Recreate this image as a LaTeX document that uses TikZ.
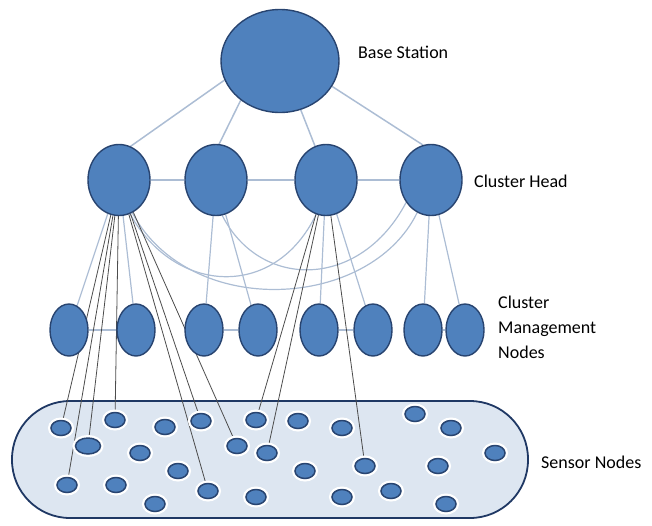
\documentclass[tikz,border=0pt]{standalone}
\usepackage{fontspec}
\setmainfont{Carlito}
\usepackage{tikz}
\usetikzlibrary{shapes.geometric,backgrounds}

\definecolor{nodeblue}{RGB}{79,129,189}
\definecolor{nodeedge}{RGB}{40,68,112}
\definecolor{linkblue}{RGB}{172,189,212}
\definecolor{zonefill}{RGB}{221,230,241}
\definecolor{zoneedge}{RGB}{31,56,100}

\begin{document}
\begin{tikzpicture}[x=1pt,y=-1pt,
  bsnode/.style={ellipse,draw=nodeedge,line width=1.4pt,fill=nodeblue,inner sep=0pt,minimum width=118pt,minimum height=103pt},
  chnode/.style={bsnode,minimum width=62pt,minimum height=71pt},
  cmnode/.style={bsnode,minimum width=38pt,minimum height=52pt},
  snode/.style={ellipse,draw=nodeedge,line width=1.5pt,fill=nodeblue,inner sep=0pt,minimum width=20pt,minimum height=15pt,preaction={draw=white,line width=6pt}},
  link/.style={draw=linkblue,line width=1.5pt},
  wire/.style={draw=black!70,line width=0.8pt},
  zone/.style={draw=zoneedge,fill=zonefill,line width=1.8pt,rounded corners=58pt},
  lbl/.style={anchor=west,align=left,inner sep=0pt,font=\fontsize{18}{25}\selectfont}]
\useasboundingbox (0,0) rectangle (652,525);

% base station and cluster heads
\node[bsnode] (bs) at (280,61) {};
\foreach \n/\x in %
{1/119,2/216,3/326,4/431} {
   \node[chnode] (ch\n) at (\x,180) {};
}
% cluster management nodes
\foreach \n/\x in %
{1/69,2/136,3/204,4/258,5/319,6/373,7/423,8/465} {
   \node[cmnode] (cm\n) at (\x,330) {};
}
% sensor field
\foreach \n/\x/\y in %
{1/61/428,2/115/420,3/165/427,4/201/421,5/256/420,6/298/421,7/342/428,%
 8/415/414,9/451/428,11/140/453,12/237/446,13/267/453,14/495/453,%
 15/178/471,16/305/471,17/365/466,18/438/466,19/67/485,20/116/485,%
 21/155/504,22/208/491,23/256/497,24/342/497,25/391/491,26/446/504} {
   \node[snode] (s\n) at (\x,\y) {};
}
\node[snode,minimum width=25pt,minimum height=16pt] (s10) at (88,446) {};

\node[lbl] (bslabel) at (358,52) {Base Station};
\node[lbl] (chlabel) at (474,181) {Cluster Head};
\node[lbl] (cmlabel) at (498,327) {Cluster\\Management\\Nodes};
\node[lbl] (snlabel) at (541,462) {Sensor Nodes};

\begin{scope}[on background layer]
\draw[zone] (12,401) rectangle (528,518);
% uplinks to the base station
\draw[link] (bs.199) -- (ch1.71);
\draw[link] (bs.225) -- (ch2.85);
\draw[link] (bs.293) -- (ch3.108);
\draw[link] (bs.334) -- (ch4.103);
\draw[link] (ch1) -- (ch2);
\draw[link] (ch2) -- (ch3);
\draw[link] (ch3) -- (ch4);
% head to head arcs
\draw[link,line width=1.2pt] (ch1.-72) .. controls (175,295) and (275,300) .. (ch3.-106);
\draw[link,line width=1.2pt] (ch1.-68) .. controls (190,320) and (370,310) .. (ch4.-113);
\draw[link,line width=1.2pt] (ch2.-80) .. controls (260,290) and (360,290) .. (ch4.-138);
% heads to management nodes
\foreach \h/\a/\b in %
{1/1/2,2/3/4,3/5/6,4/7/8} {
   \draw[link,line width=1.2pt] (ch\h) -- (cm\a);
   \draw[link,line width=1.2pt] (ch\h) -- (cm\b);
   \draw[link] (cm\a) -- (cm\b);
}
% direct wires to sensors
\foreach \s in {1,10,2,19,4,22,12} {
   \draw[wire] (ch1) -- (s\s);
}
\foreach \s in {5,13,17} {
   \draw[wire] (ch3) -- (s\s);
}
\end{scope}
\end{tikzpicture}
\end{document}
